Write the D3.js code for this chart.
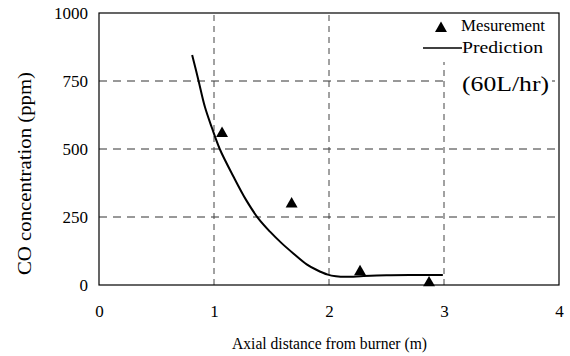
<!DOCTYPE html>
<html><head><meta charset="utf-8">
<script src="https://cdn.jsdelivr.net/npm/d3@7"></script>
<style>body{margin:0;background:#fff}svg{display:block}text{font-family:"Liberation Serif","Times New Roman",serif;fill:#000}</style>
</head><body>
<script>
const xTicks = [0, 1, 2, 3, 4];
const yTicks = [0, 250, 500, 750, 1000];
const measX = [1.07, 1.675, 2.27, 2.87];
const measY = [557, 298, 49, 8];
const predX = [0.81, 0.864, 0.92, 0.98, 1.05, 1.17, 1.28, 1.385, 1.487, 1.59, 1.69, 1.806, 1.89, 1.99, 2.06, 2.15, 2.3, 2.5, 2.7, 2.99];
const predY = [846, 754, 656, 580, 500, 398, 312, 245, 196, 153, 116, 76, 56, 38, 32, 30, 33, 36, 37, 37];
const legendLabels = ["Mesurement", "Prediction"];
const note = "(60L/hr)";

const W = 570, H = 356;
const svg = d3.select("body").append("svg").attr("width", W).attr("height", H);
const x = d3.scaleLinear().domain([0, 4]).range([99, 559]);
const y = d3.scaleLinear().domain([0, 1000]).range([285, 13]);

// grid
svg.append("g").selectAll("line").data(yTicks.filter(d => d > 0 && d < 1000)).join("line")
  .attr("x1", x(0)).attr("x2", x(4)).attr("y1", d => y(d)).attr("y2", d => y(d))
  .attr("stroke", "#333").attr("stroke-width", 1).attr("stroke-dasharray", "8,6");
svg.append("g").selectAll("line").data(xTicks.filter(d => d > 0 && d < 4)).join("line")
  .attr("x1", d => x(d)).attr("x2", d => x(d)).attr("y1", y(0)).attr("y2", y(1000))
  .attr("stroke", "#444").attr("stroke-width", 1).attr("stroke-dasharray", "6,5");

// legend / note backgrounds
svg.append("rect").attr("x", 420).attr("y", 14).attr("width", 138).attr("height", 48).attr("fill", "#fff");
svg.append("rect").attr("x", 449).attr("y", 70).attr("width", 103).attr("height", 26).attr("fill", "#fff");

// frame
svg.append("rect").attr("x", x(0)).attr("y", y(1000)).attr("width", x(4) - x(0)).attr("height", y(0) - y(1000))
  .attr("fill", "none").attr("stroke", "#000").attr("stroke-width", 1.2);

// axes
const xAxis = svg.append("g").attr("transform", `translate(0,${y(0)})`)
  .call(d3.axisBottom(x).tickValues(xTicks).tickSize(0).tickPadding(20).tickFormat(d3.format("d")));
xAxis.select(".domain").remove();
xAxis.selectAll("text").attr("font-size", 17).attr("font-family", "Liberation Serif");
const yAxis = svg.append("g").attr("transform", `translate(${x(0)},0)`)
  .call(d3.axisLeft(y).tickValues(yTicks).tickSize(0).tickPadding(11).tickFormat(d3.format("d")));
yAxis.select(".domain").remove();
yAxis.selectAll("text").attr("font-size", 17).attr("font-family", "Liberation Serif");

// titles
svg.append("text").attr("x", 329.5).attr("y", 349).attr("text-anchor", "middle").attr("font-size", 16)
  .attr("textLength", 195).attr("lengthAdjust", "spacingAndGlyphs").text("Axial distance from burner (m)");
svg.append("text").attr("transform", "translate(31,173.5) rotate(-90)").attr("text-anchor", "middle").attr("font-size", 18)
  .attr("textLength", 203).attr("lengthAdjust", "spacingAndGlyphs").text("CO concentration (ppm)");

// prediction line
const pred = predX.map((d, i) => [d, predY[i]]);
svg.append("path").datum(pred).attr("fill", "none").attr("stroke", "#000").attr("stroke-width", 2)
  .attr("d", d3.line().x(d => x(d[0])).y(d => y(d[1])).curve(d3.curveCatmullRom.alpha(0.5)));

// measurement triangles
const tri = d3.symbol().type(d3.symbolTriangle).size(62);
svg.append("g").selectAll("path").data(measX.map((d, i) => [d, measY[i]])).join("path")
  .attr("transform", d => `translate(${x(d[0])},${y(d[1])})`).attr("d", tri).attr("fill", "#000");

// legend
svg.append("path").attr("transform", "translate(441,28.5)").attr("d", tri).attr("fill", "#000");
svg.append("text").attr("x", 461).attr("y", 31).attr("font-size", 16)
  .attr("textLength", 84).attr("lengthAdjust", "spacingAndGlyphs").text(legendLabels[0]);
svg.append("line").attr("x1", 423).attr("x2", 462).attr("y1", 48).attr("y2", 48).attr("stroke", "#000").attr("stroke-width", 1.3);
svg.append("text").attr("x", 462).attr("y", 53).attr("font-size", 16)
  .attr("textLength", 81).attr("lengthAdjust", "spacingAndGlyphs").text(legendLabels[1]);
svg.append("text").attr("x", 462).attr("y", 91).attr("font-size", 20)
  .attr("textLength", 87).attr("lengthAdjust", "spacingAndGlyphs").text(note);
</script>
</body></html>
